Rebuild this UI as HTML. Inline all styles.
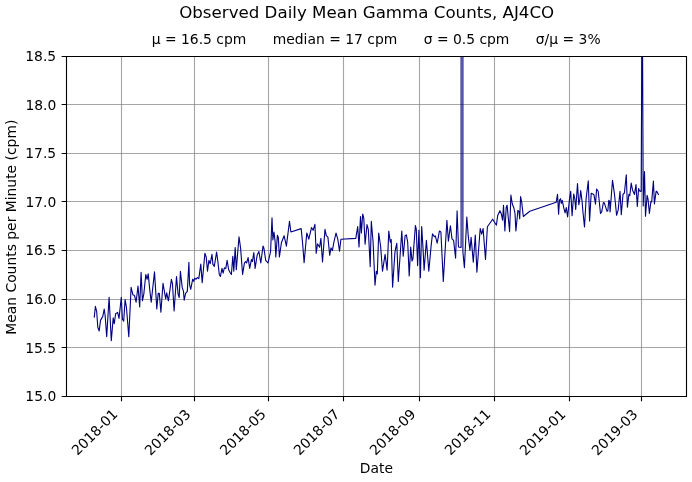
<!DOCTYPE html>
<html><head><meta charset="utf-8"><style>
html,body{margin:0;padding:0;background:#fff;overflow:hidden}
svg{display:block;will-change:transform}
text{white-space:pre;font-family:"DejaVu Sans","Liberation Sans",sans-serif;fill:#000}
</style></head>
<body>
<svg width="692" height="482" viewBox="0 0 692 482">
<rect width="692" height="482" fill="#fff"/>
<defs><clipPath id="c"><rect x="66.0" y="56.0" width="621.0" height="341.0"/></clipPath></defs>
<path d="M121.5 56.5V396.5" stroke="#808080" stroke-opacity="0.7" stroke-width="1.111"/>
<path d="M194.5 56.5V396.5" stroke="#808080" stroke-opacity="0.7" stroke-width="1.111"/>
<path d="M268.5 56.5V396.5" stroke="#808080" stroke-opacity="0.7" stroke-width="1.111"/>
<path d="M343.5 56.5V396.5" stroke="#808080" stroke-opacity="0.7" stroke-width="1.111"/>
<path d="M419.5 56.5V396.5" stroke="#808080" stroke-opacity="0.7" stroke-width="1.111"/>
<path d="M494.5 56.5V396.5" stroke="#808080" stroke-opacity="0.7" stroke-width="1.111"/>
<path d="M569.5 56.5V396.5" stroke="#808080" stroke-opacity="0.7" stroke-width="1.111"/>
<path d="M641.5 56.5V396.5" stroke="#808080" stroke-opacity="0.7" stroke-width="1.111"/>
<path d="M66.5 104.5H686.5" stroke="#808080" stroke-opacity="0.7" stroke-width="1.111"/>
<path d="M66.5 153.5H686.5" stroke="#808080" stroke-opacity="0.7" stroke-width="1.111"/>
<path d="M66.5 201.5H686.5" stroke="#808080" stroke-opacity="0.7" stroke-width="1.111"/>
<path d="M66.5 250.5H686.5" stroke="#808080" stroke-opacity="0.7" stroke-width="1.111"/>
<path d="M66.5 299.5H686.5" stroke="#808080" stroke-opacity="0.7" stroke-width="1.111"/>
<path d="M66.5 347.5H686.5" stroke="#808080" stroke-opacity="0.7" stroke-width="1.111"/>
<path d="M94.30 317.10 L95.40 306.30 L96.70 311.70 L97.80 327.20 L99.20 331.00 L100.50 320.40 L102.80 316.40 L104.20 309.00 L105.10 315.00 L106.70 336.60 L109.10 297.30 L111.30 340.70 L113.20 317.80 L114.30 323.80 L115.60 313.70 L117.60 312.40 L119.00 318.40 L121.30 297.30 L122.40 319.10 L123.70 321.10 L125.10 299.50 L126.40 307.00 L128.80 336.60 L131.10 287.40 L132.90 294.80 L134.50 295.50 L136.10 302.20 L138.00 286.00 L139.70 306.90 L141.10 272.30 L142.40 300.80 L143.80 294.10 L145.80 274.50 L147.10 279.30 L148.20 273.90 L149.80 290.00 L151.20 302.20 L154.50 271.90 L156.80 308.90 L158.20 293.40 L159.30 293.40 L160.90 312.30 L163.00 283.30 L165.70 298.80 L166.70 292.80 L168.40 300.80 L171.40 279.30 L172.50 284.00 L174.10 311.00 L176.50 276.60 L178.10 294.10 L179.20 297.50 L180.40 271.20 L182.20 287.40 L183.50 291.40 L184.20 300.20 L185.60 293.40 L187.30 291.40 L188.90 262.40 L189.60 284.60 L190.70 289.30 L192.70 279.20 L193.70 281.30 L194.70 278.20 L196.10 279.20 L197.40 277.60 L198.80 278.60 L200.80 264.10 L202.20 282.60 L204.90 253.30 L206.20 257.00 L207.50 271.10 L208.90 260.40 L210.20 263.70 L212.00 254.30 L212.90 264.40 L214.30 266.40 L216.60 252.00 L217.90 261.70 L219.30 274.50 L220.40 276.50 L222.00 268.40 L223.10 273.20 L224.40 267.80 L225.80 268.40 L227.10 260.40 L228.70 269.80 L230.10 272.50 L231.40 274.50 L232.80 256.30 L233.80 271.10 L235.20 247.50 L236.30 269.80 L239.00 236.80 L240.60 248.20 L242.60 274.50 L244.40 263.10 L245.60 261.50 L246.60 263.00 L248.10 257.60 L249.70 268.40 L251.40 259.60 L252.40 261.60 L253.80 252.50 L255.10 268.40 L257.20 254.90 L258.90 251.50 L260.80 263.00 L263.00 246.10 L263.90 248.10 L265.70 260.30 L268.00 263.00 L270.60 251.50 L272.00 217.80 L272.90 240.00 L274.00 232.00 L275.10 241.40 L275.80 256.90 L277.40 235.30 L278.30 237.40 L279.40 256.90 L281.40 242.80 L284.10 235.70 L286.40 246.10 L289.50 221.20 L290.90 232.00 L301.20 228.60 L302.70 244.50 L304.10 262.70 L306.80 233.00 L308.80 239.10 L311.50 227.60 L313.10 230.30 L314.90 224.30 L316.20 253.30 L317.50 243.80 L319.60 247.20 L320.90 238.40 L322.50 262.00 L325.00 229.40 L326.30 235.70 L327.90 237.10 L329.70 255.30 L331.00 247.90 L332.40 250.60 L333.70 243.10 L336.00 233.00 L337.80 239.10 L339.50 251.20 L340.90 239.20 L355.80 238.40 L357.70 226.50 L359.00 247.00 L360.50 216.60 L361.40 233.00 L362.70 214.00 L363.80 218.10 L365.10 244.20 L367.00 224.60 L368.30 229.30 L370.20 266.60 L371.30 221.40 L373.10 242.30 L375.00 285.20 L376.30 271.20 L377.30 274.00 L378.70 233.00 L380.60 246.00 L382.50 271.20 L385.10 254.40 L387.10 270.30 L388.80 231.10 L390.30 242.30 L391.20 239.50 L392.60 287.10 L395.00 251.60 L396.80 243.20 L398.30 281.50 L401.80 231.10 L403.20 256.30 L405.10 235.80 L406.40 234.90 L407.70 242.30 L409.20 275.90 L410.70 247.00 L412.00 261.00 L412.90 259.10 L415.40 225.50 L416.30 229.30 L417.60 265.60 L418.90 230.20 L420.40 277.80 L421.70 226.50 L423.20 251.60 L424.10 270.30 L426.40 240.40 L428.80 271.20 L431.20 245.10 L432.50 233.90 L434.40 236.70 L435.30 235.80 L437.20 243.20 L439.40 231.10 L440.90 232.00 L443.30 281.50 L446.90 220.20 L448.40 241.20 L450.40 225.70 L452.00 238.90 L453.60 240.40 L455.60 258.30 L457.10 210.90 L458.50 247.00 L461.10 247.50 L462.00 -30000.00 L462.90 252.00 L464.40 267.70 L466.80 217.10 L468.30 236.50 L469.90 250.50 L471.10 237.30 L473.30 262.20 L475.30 235.00 L476.90 272.30 L480.20 228.50 L481.70 234.20 L483.10 228.60 L485.50 259.40 L487.40 226.70 L492.70 219.20 L496.40 225.20 L497.70 215.40 L499.90 210.70 L501.20 213.40 L502.60 220.20 L503.50 205.30 L504.90 231.00 L506.20 207.40 L507.10 205.30 L509.60 231.60 L510.90 195.00 L512.30 204.00 L513.90 208.00 L515.00 213.40 L515.90 231.00 L517.90 210.30 L519.00 211.40 L519.70 218.80 L520.60 196.60 L521.70 202.00 L523.30 216.50 L529.80 211.30 L556.20 202.30 L557.50 194.40 L558.60 214.20 L559.50 200.10 L560.50 198.70 L561.30 203.40 L562.20 200.30 L564.00 208.80 L565.10 212.90 L566.30 207.50 L567.60 216.90 L569.40 200.10 L570.70 191.30 L572.10 215.60 L573.70 194.00 L574.80 198.70 L575.70 209.50 L577.50 183.60 L578.80 204.80 L579.80 199.40 L580.70 190.60 L582.10 201.40 L582.90 211.50 L584.50 227.00 L586.10 198.70 L588.30 180.90 L589.60 221.00 L591.20 193.30 L592.90 194.00 L593.90 194.70 L595.50 204.10 L596.60 189.00 L598.20 191.30 L600.50 213.50 L601.70 211.90 L603.40 202.50 L604.40 203.10 L606.90 211.20 L607.80 211.00 L608.80 200.40 L609.60 201.10 L610.10 211.90 L612.50 180.20 L614.50 194.40 L616.60 215.30 L618.20 209.90 L620.00 191.30 L621.30 214.60 L623.00 194.40 L624.40 193.00 L626.30 174.70 L627.40 207.20 L628.90 194.40 L629.80 195.70 L631.20 183.10 L632.50 189.90 L634.50 194.40 L636.00 184.50 L637.30 206.40 L638.60 188.50 L639.50 190.90 L641.20 191.40 L642.20 -40.00 L643.20 205.90 L644.50 171.50 L645.50 216.30 L647.10 195.40 L648.00 198.90 L649.40 213.40 L650.90 201.40 L651.70 201.90 L653.40 181.00 L654.40 203.90 L656.10 191.40 L656.90 191.40 L658.40 194.40" clip-path="url(#c)" stroke="#000080" stroke-width="1.111" fill="none" stroke-linejoin="round" stroke-linecap="square"/>
<path d="M66.5 396.5V56.5H686.5V396.5Z" stroke="#000" stroke-width="1.111" fill="none" stroke-linejoin="miter"/>
<path d="M121.5 396.5v4.861M194.5 396.5v4.861M268.5 396.5v4.861M343.5 396.5v4.861M419.5 396.5v4.861M494.5 396.5v4.861M569.5 396.5v4.861M641.5 396.5v4.861M66.5 104.5h-4.861M66.5 153.5h-4.861M66.5 201.5h-4.861M66.5 250.5h-4.861M66.5 299.5h-4.861M66.5 347.5h-4.861M66.5 56.5h-4.861M66.5 396.5h-4.861" stroke="#000" stroke-width="1.111" fill="none"/>
<text transform="translate(77.47 456.12) rotate(-45)" font-size="13.889">2018-01</text>
<text transform="translate(150.51 456.17) rotate(-45)" font-size="13.889">2018-03</text>
<text transform="translate(225.66 456.00) rotate(-45)" font-size="13.889">2018-05</text>
<text transform="translate(299.46 456.03) rotate(-45)" font-size="13.889">2018-07</text>
<text transform="translate(375.39 456.10) rotate(-45)" font-size="13.889">2018-09</text>
<text transform="translate(450.52 456.09) rotate(-45)" font-size="13.889">2018-11</text>
<text transform="translate(525.48 456.13) rotate(-45)" font-size="13.889">2019-01</text>
<text transform="translate(597.53 456.18) rotate(-45)" font-size="13.889">2019-03</text>
<text x="376.38" y="473.12" text-anchor="middle" font-size="13.889">Date</text>
<text x="56.28" y="401.04" text-anchor="end" font-size="13.889">15.0</text>
<text x="56.14" y="353.47" text-anchor="end" font-size="13.889">15.5</text>
<text x="56.31" y="303.90" text-anchor="end" font-size="13.889">16.0</text>
<text x="56.16" y="255.33" text-anchor="end" font-size="13.889">16.5</text>
<text x="56.30" y="206.76" text-anchor="end" font-size="13.889">17.0</text>
<text x="56.15" y="158.18" text-anchor="end" font-size="13.889">17.5</text>
<text x="56.32" y="109.60" text-anchor="end" font-size="13.889">18.0</text>
<text x="56.18" y="61.03" text-anchor="end" font-size="13.889">18.5</text>
<text transform="translate(15.93 227.23) rotate(-90)" text-anchor="middle" font-size="13.889">Mean Counts per Minute (cpm)</text>
<text x="376.17" y="44.39" text-anchor="middle" font-size="13.889">μ = 16.5 cpm      median = 17 cpm      σ = 0.5 cpm      σ/μ = 3%</text>
<text x="366.70" y="18.30" text-anchor="middle" font-size="16.667">Observed Daily Mean Gamma Counts, AJ4CO</text>
</svg>
</body></html>
